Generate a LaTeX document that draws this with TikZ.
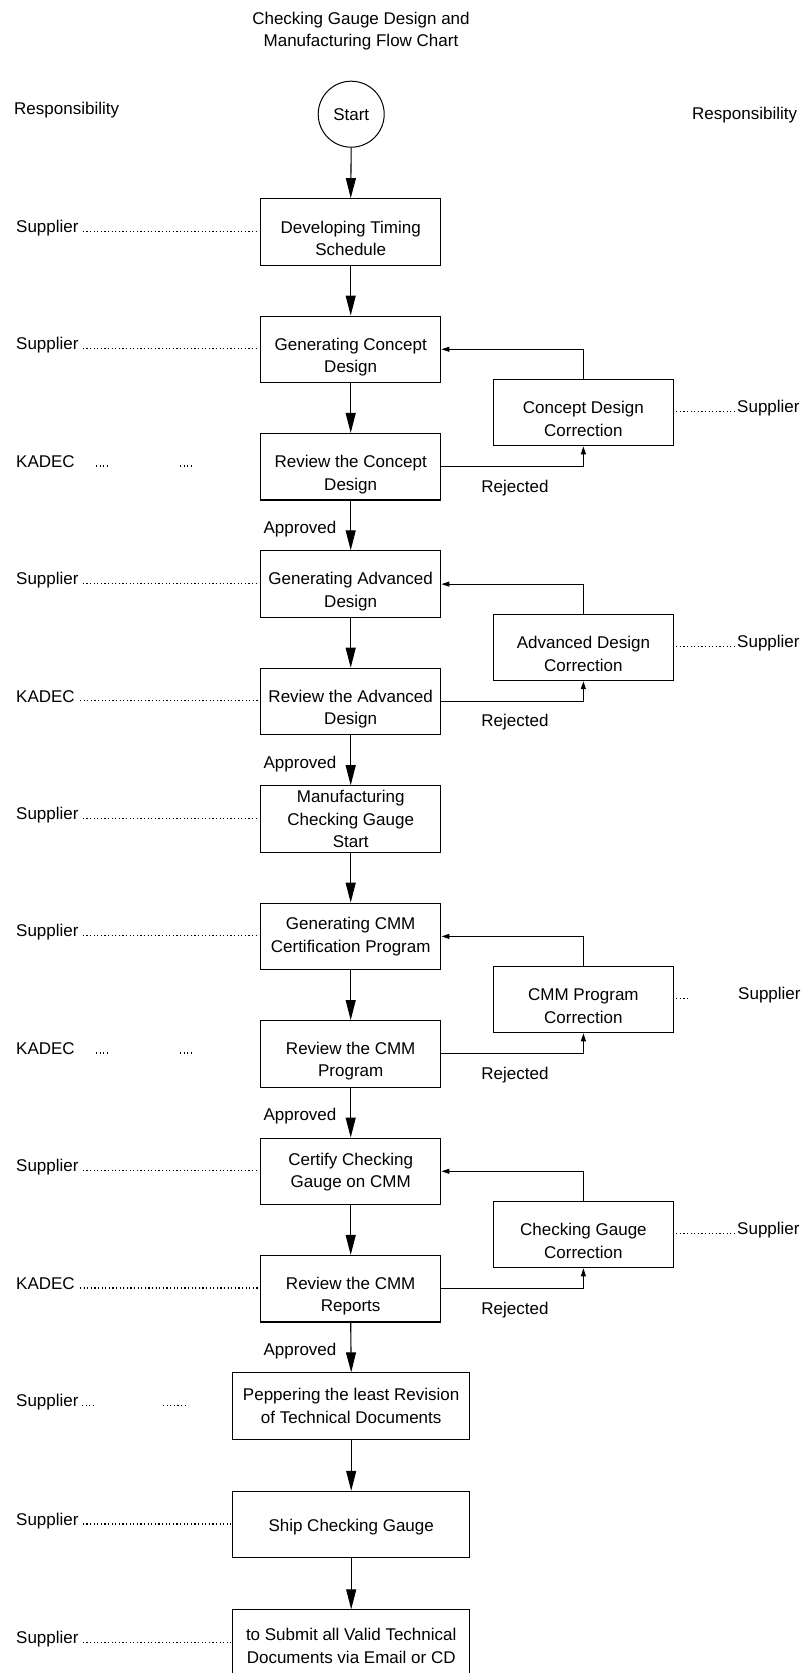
\documentclass[tikz,border=0pt]{standalone}
\usepackage{fontspec}
\setmainfont{Liberation Sans}
\usetikzlibrary{arrows.meta,calc}
\tikzset{
  txt/.style={inner sep=0pt, font=\fontsize{17}{22.4}\selectfont},
  flowbox/.style={draw, line width=1.1pt, minimum width=180.4pt, minimum height=66.5pt, align=center, txt},
  widebox/.style={flowbox, minimum width=237pt},
  boxtext/.style 2 args={label={[txt,align=center,yshift=-#1pt]center:#2}},
  flowarrow/.style={line width=1.1pt, -{Triangle[length=20pt,width=10pt]}},
  backarrow/.style={line width=1.1pt, -{Triangle[length=8pt,width=5pt]}},
  dotline/.style={line width=1.3pt, dash pattern=on 1.2pt off 2.4pt},
  lbl/.style={txt, anchor=base west},
}
\begin{document}
\begin{tikzpicture}[x=1pt,y=-1pt]
\useasboundingbox (0,0) rectangle (807,1673);
\fill[white] (0,0) rectangle (807,1673);
\clip (0,0) rectangle (807,1673);

% title and headers
\node[txt, align=center] (title) at (361,31.3) {Checking Gauge Design and\\Manufacturing Flow Chart};
\node[txt, anchor=west] (respL) at (14,110) {Responsibility};
\node[txt, anchor=west] (respR) at (692,115) {Responsibility};

% start
\node[draw, circle, line width=1pt, minimum size=66pt, txt] (start) at (351.2,114.2) {Start};

% main boxes
\node[flowbox, boxtext={6.5}{Developing Timing\\Schedule}] (b1) at (350.7,231.9) {};
\node[flowbox, boxtext={7.5}{Generating Concept\\Design}] (b2) at (350.7,349.3) {};
\node[flowbox, boxtext={8}{Review the Concept\\Design}] (b3) at (350.7,466.7) {};
\node[flowbox, boxtext={7.5}{Generating Advanced\\Design}] (b4) at (350.7,584.1) {};
\node[flowbox, boxtext={7.5}{Review the Advanced\\Design}] (b5) at (350.7,701.5) {};
\node[flowbox] (b6) at (350.7,819.0) {Manufacturing\\Checking Gauge\\Start};
\node[flowbox] (b7) at (350.7,936.4) {Generating CMM\\Certification Program};
\node[flowbox, boxtext={7.5}{Review the CMM\\Program}] (b8) at (350.7,1053.8) {};
\node[flowbox, boxtext={1}{Certify Checking\\Gauge on CMM}] (b9) at (350.7,1171.3) {};
\node[flowbox, boxtext={7.5}{Review the CMM\\Reports}] (b10) at (350.7,1288.7) {};
\node[widebox] (b11) at (351.2,1406.1) {Peppering the least Revision\\of Technical Documents};
\node[widebox, boxtext={2}{Ship Checking Gauge}] (b12) at (351.2,1524.6) {};
\node[widebox, boxtext={3}{to Submit all Valid Technical\\Documents via Email or CD}] (b13) at (351.2,1643.1) {};

% correction boxes
\node[flowbox, boxtext={6.5}{Concept Design\\Correction}] (c1) at (583.4,412.6) {};
\node[flowbox, boxtext={6.5}{Advanced Design\\Correction}] (c2) at (583.4,647.4) {};
\node[flowbox, boxtext={6.5}{CMM Program\\Correction}] (c3) at (583.4,999.5) {};
\node[flowbox, boxtext={6.5}{Checking Gauge\\Correction}] (c4) at (583.4,1234.5) {};

% main flow
\draw[flowarrow] (start.south) -- (b1.north);
\foreach \a/\b in {b1/b2,b2/b3,b3/b4,b4/b5,b5/b6,b6/b7,b7/b8,b8/b9,b9/b10,b10/b11,b11/b12,b12/b13}
  \draw[flowarrow] (\a.south) -- (\b.north);

% loops
\foreach \r/\c/\g in {b3/c1/b2,b5/c2/b4,b8/c3/b7,b10/c4/b9}{
  \draw[backarrow] (\r.east) -| (\c.south);
  \draw[backarrow] (\c.north) |- (\g.east);
}

% loop labels
\node[txt] (rej1) at (515,487.7) {Rejected};
\node[txt] (rej2) at (515,722.5) {Rejected};
\node[txt] (rej3) at (515,1074.8) {Rejected};
\node[txt] (rej4) at (515,1309.7) {Rejected};
\node[txt] (app1) at (300,529.3) {Approved};
\node[txt] (app2) at (300,764.2) {Approved};
\node[txt] (app3) at (300,1116.5) {Approved};
\node[txt] (app4) at (300,1351.4) {Approved};

% left responsibility labels
\node[lbl] (l1) at (16,232.4) {Supplier};
\node[lbl] (l2) at (16,349.8) {Supplier};
\node[lbl] (l3) at (16,467.2) {KADEC};
\node[lbl] (l4) at (16,584.6) {Supplier};
\node[lbl] (l5) at (16,702.0) {KADEC};
\node[lbl] (l6) at (16,819.5) {Supplier};
\node[lbl] (l7) at (16,936.9) {Supplier};
\node[lbl] (l8) at (16,1054.3) {KADEC};
\node[lbl] (l9) at (16,1171.8) {Supplier};
\node[lbl] (l10) at (16,1289.2) {KADEC};
\node[lbl] (l11) at (16,1406.6) {Supplier};
\node[lbl] (l12) at (16,1525.1) {Supplier};
\node[lbl] (l13) at (16,1643.6) {Supplier};

\foreach \l/\b in {l1/b1,l2/b2,l4/b4,l6/b6,l7/b7,l9/b9,l12/b12,l13/b13}
  \draw[dotline] ($(\l.base east)+(4,-1.2)$) -- ($(\l.base -| \b.west)+(-1,-1.2)$);
\foreach \l/\b in {l5/b5,l10/b10}
  \draw[dotline] ($(\l.base west)+(64,-1.2)$) -- ($(\l.base -| \b.west)+(-1,-1.2)$);
\foreach \l in {l3,l8}{
  \draw[dotline] ($(\l.base west)+(80,-1.2)$) -- ++(14,0);
  \draw[dotline] ($(\l.base west)+(164,-1.2)$) -- ++(14,0);
}
\draw[dotline] ($(l11.base west)+(66,-1.2)$) -- ++(11,0);
\draw[dotline] ($(l11.base west)+(147,-1.2)$) -- ++(23,0);

% right responsibility labels
\node[lbl] (r1) at (737,412.6) {Supplier};
\node[lbl] (r2) at (737,647.4) {Supplier};
\node[lbl] (r3) at (738,999.5) {Supplier};
\node[lbl] (r4) at (737,1234.5) {Supplier};
\foreach \c/\r in {c1/r1,c2/r2,c4/r4}
  \draw[dotline] ($(\r.base -| \c.east)+(2,-1.2)$) -- ($(\r.base west)+(-1,-1.2)$);
\draw[dotline] ($(r3.base -| c3.east)+(2,-1.2)$) -- ++(11,0);
\end{tikzpicture}
\end{document}
